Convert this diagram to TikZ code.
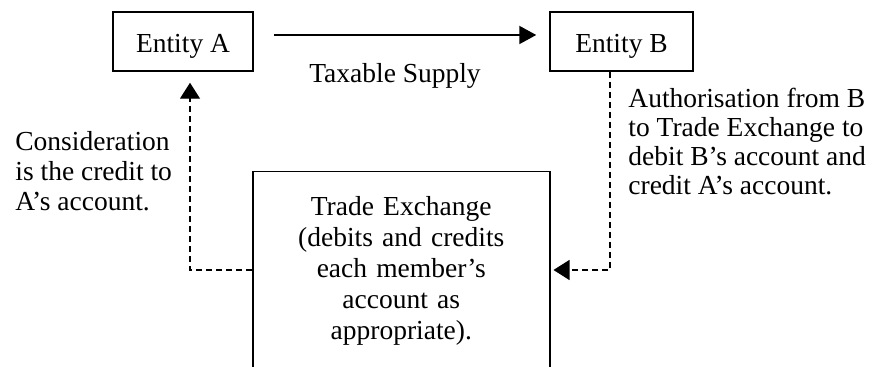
\documentclass[tikz,border=0pt]{standalone}
\usepackage{fontspec}
\setmainfont{Liberation Serif}
\usetikzlibrary{arrows.meta}
\begin{document}
\begin{tikzpicture}[x=0.5pt,y=-0.5pt,
  box/.style={draw, line width=0.75pt, inner sep=0pt},
  txt/.style={font=\fontsize{13.75}{14.5}\selectfont},
  lbl/.style={txt, inner sep=0pt},
  dashy/.style={line width=0.65pt, dash pattern=on 3pt off 2pt},
  dtip/.style={-{Triangle[length=8pt,width=10pt]}},
  stip/.style={-{Triangle[length=8.5pt,width=9pt]}}]
\useasboundingbox (0,0) rectangle (881,367);
\clip (0,0) rectangle (881,367);
% entity boxes
\node[box, txt, minimum width=70pt, minimum height=29.5pt, text height=11.5pt, text depth=0pt] (A) at (183,41.5) {Entity A};
\node[box, txt, minimum width=71.5pt, minimum height=29.5pt, text height=11.5pt, text depth=0pt] (B) at (621.5,41.5) {Entity B};
% trade exchange box (continues below the picture)
\node[box, anchor=north west, text width=148.5pt, align=center, text height=22pt, text depth=110pt,
  font=\fontsize{13.75}{15.5}\selectfont] (T) at (252,171)
  {Trade Exchange\\(debits and credits\\each member's\\account as\\appropriate).};
% labels (base anchor = baseline of the last line)
\node[lbl, anchor=base] (ts) at (395,83) {Taxable Supply};
\node[lbl, anchor=base west, align=left, font=\fontsize{13.75}{15}\selectfont] (cons) at (15,211)
  {Consideration\\is the credit to\\A's account.};
\node[lbl, anchor=base west, align=left, font=\fontsize{13.75}{14.5}\selectfont] (auth) at (628,195)
  {Authorisation from B\\to Trade Exchange to\\debit B's account and\\credit A's account.};
% connectors
\coordinate (aL) at (190,270);
\coordinate (bR) at (610,270);
\draw[line width=1pt, stip, shorten <=10pt, shorten >=6.5pt]
  ([yshift=3.25pt]A.east) -- ([yshift=3.25pt]B.west);
\draw[dashy, dtip, shorten >=5.5pt] (T.west |- aL) -| (A.south -| aL);
\draw[dashy, dtip, shorten >=1.5pt] (B.south -| bR) |- (T.east |- bR);
\end{tikzpicture}
\end{document}
